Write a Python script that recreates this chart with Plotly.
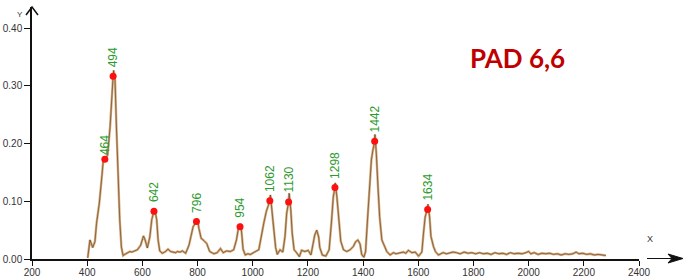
import plotly.graph_objects as go

# Spectrum (wavenumber, intensity)
wavenumber = [402, 410, 420, 428, 434, 444, 452, 458, 464, 474, 483, 489, 494, 496, 501, 506, 512, 518, 524, 530,
              536, 545, 555, 562, 570, 582, 594, 604, 610, 618, 627, 634, 642, 644, 652, 657, 663, 672, 684, 693,
              702, 711, 720, 727, 737, 745, 757, 769, 777, 784, 796, 799, 805, 813, 823, 833, 844, 859, 871, 883,
              893, 905, 919, 931, 941, 947, 954, 956, 960, 965, 973, 982, 992, 1001, 1010, 1022, 1030, 1040, 1049, 1062,
              1064, 1070, 1077, 1083, 1089, 1099, 1109, 1117, 1123, 1130, 1132, 1138, 1143, 1150, 1159, 1169, 1177, 1189,
              1201, 1211, 1219, 1225, 1232, 1239, 1243, 1252, 1265, 1277, 1286, 1292, 1298, 1299, 1305, 1311, 1319, 1329,
              1341, 1353, 1365, 1373, 1381, 1389, 1395, 1403, 1409, 1416, 1424, 1430, 1436, 1442, 1443, 1448, 1454, 1460,
              1468, 1477, 1486, 1498, 1510, 1519, 1528, 1537, 1546, 1555, 1564, 1577, 1589, 1601, 1613, 1619, 1625, 1634,
              1635, 1641, 1646, 1655, 1662, 1673, 1690, 1702, 1714, 1726, 1738, 1752, 1766, 1780, 1794, 1808, 1822, 1836,
              1850, 1864, 1878, 1892, 1906, 1920, 1934, 1948, 1962, 1976, 1990, 2000, 2008, 2020, 2034, 2048, 2062, 2076,
              2090, 2104, 2118, 2132, 2146, 2160, 2172, 2182, 2196, 2210, 2224, 2238, 2252, 2266, 2280]
intensity = [0.002, 0.033, 0.020, 0.030, 0.062, 0.097, 0.137, 0.169, 0.173, 0.180, 0.229, 0.288, 0.317, 0.327, 0.310, 0.229, 0.143, 0.068, 0.021, 0.006,
             0.008, 0.011, 0.013, 0.012, 0.014, 0.016, 0.024, 0.040, 0.033, 0.019, 0.038, 0.068, 0.083, 0.088, 0.068, 0.033, 0.014, 0.010, 0.013, 0.017,
             0.013, 0.012, 0.011, 0.013, 0.012, 0.014, 0.010, 0.024, 0.039, 0.056, 0.065, 0.070, 0.053, 0.036, 0.032, 0.027, 0.013, 0.009, 0.011, 0.018,
             0.011, 0.014, 0.013, 0.016, 0.033, 0.050, 0.056, 0.061, 0.045, 0.017, 0.007, 0.009, 0.008, 0.011, 0.013, 0.016, 0.039, 0.062, 0.082, 0.101,
             0.111, 0.085, 0.050, 0.020, 0.008, 0.016, 0.012, 0.039, 0.079, 0.099, 0.114, 0.085, 0.045, 0.016, 0.011, 0.004, 0.015, 0.013,
             0.015, 0.007, 0.027, 0.042, 0.050, 0.038, 0.020, 0.007, 0.005, 0.016, 0.068, 0.108, 0.124, 0.132, 0.108, 0.073, 0.031, 0.016,
             0.013, 0.016, 0.022, 0.030, 0.033, 0.026, 0.008, 0.003, 0.013, 0.068, 0.125, 0.172, 0.190, 0.204, 0.216, 0.183, 0.125, 0.073,
             0.033, 0.022, 0.013, 0.007, 0.011, 0.009, 0.010, 0.012, 0.012, 0.010, 0.015, 0.011, 0.012, 0.005, 0.012, 0.045, 0.073, 0.088,
             0.095, 0.073, 0.039, 0.022, 0.013, 0.007, 0.011, 0.009, 0.010, 0.012, 0.011, 0.009, 0.012, 0.010, 0.011, 0.009, 0.011, 0.009,
             0.010, 0.008, 0.011, 0.009, 0.010, 0.008, 0.011, 0.009, 0.010, 0.009, 0.011, 0.013, 0.009, 0.011, 0.008, 0.010, 0.009, 0.010,
             0.008, 0.009, 0.007, 0.009, 0.008, 0.009, 0.012, 0.009, 0.010, 0.008, 0.009, 0.007, 0.008, 0.007, 0.006]

# Labelled peaks
peak_positions = [464, 494, 642, 796, 954, 1062, 1130, 1298, 1442, 1634]
peak_heights = [0.173, 0.317, 0.083, 0.065, 0.056, 0.101, 0.099, 0.124, 0.204, 0.086]
peak_labels = ["464", "494", "642", "796", "954", "1062", "1130", "1298", "1442", "1634"]

x_ticks = [200, 400, 600, 800, 1000, 1200, 1400, 1600, 1800, 2000, 2200, 2400]
y_ticks = [0.0, 0.1, 0.2, 0.3, 0.4]

W, H = 685, 277
L, R, T, B = 32, 46, 7, 18
PW, PH = W - L - R, H - T - B


def px(xp):
    return (xp - L) / PW


def py(yp):
    return (H - B - yp) / PH


fig = go.Figure()
fig.add_trace(go.Scatter(x=wavenumber, y=intensity, mode="lines",
                         line=dict(color="#dcaa74", width=2.4), hoverinfo="skip", showlegend=False))
fig.add_trace(go.Scatter(x=wavenumber, y=intensity, mode="lines", opacity=0.85,
                         line=dict(color="#2a2a2a", width=0.6), showlegend=False))
fig.add_trace(go.Scatter(x=peak_positions, y=peak_heights, mode="markers",
                         marker=dict(color="#ff1010", size=7), showlegend=False))

for xv, yv, lab in zip(peak_positions, peak_heights, peak_labels):
    fig.add_annotation(x=xv, y=yv, text=lab, showarrow=False, textangle=-90,
                       xanchor="center", yanchor="bottom", yshift=2 if lab == "464" else 7,
                       font=dict(family="Liberation Sans, Arial", size=12, color="#2e9a2e"))

fig.add_annotation(x=px(517), y=py(58), xref="paper", yref="paper", text="<b>PAD 6,6</b>",
                   showarrow=False, xanchor="center", yanchor="middle",
                   font=dict(family="Lato", size=26, color="#c00000"))
fig.add_annotation(x=px(15), y=py(8), xref="paper", yref="paper", text="Y", showarrow=False,
                   font=dict(family="Liberation Sans, Arial", size=8, color="#333"))
fig.add_annotation(x=px(655), y=py(246), xref="paper", yref="paper", text="X", showarrow=False,
                   font=dict(family="Liberation Sans, Arial", size=9, color="#333"))

# axis arrows
fig.add_shape(type="path", xref="paper", yref="paper",
              path=f"M {px(26)} {py(15)} L {px(32)} {py(7)} L {px(38)} {py(15)}",
              line=dict(color="#111", width=1.5))
fig.add_shape(type="line", xref="paper", yref="paper", x0=px(647), y0=py(258.5), x1=px(682), y1=py(258.5),
              line=dict(color="#111", width=1.2))
fig.add_shape(type="path", xref="paper", yref="paper",
              path=f"M {px(668)} {py(254)} L {px(683)} {py(258.5)} L {px(668)} {py(263)} L {px(672)} {py(258.5)} Z",
              fillcolor="#111", line=dict(color="#111", width=1))

fig.update_layout(
    width=W, height=H, margin=dict(l=L, r=R, t=T, b=B, autoexpand=False),
    plot_bgcolor="white", paper_bgcolor="white",
    xaxis=dict(range=[200, 2400], tickvals=x_ticks, ticktext=[str(v) for v in x_ticks], automargin=False,
               showgrid=False, zeroline=False, showline=True, linecolor="#111", linewidth=1.5,
               ticks="outside", ticklen=5, tickwidth=1.2, tickcolor="#111", ticklabelstandoff=-2,
               tickfont=dict(family="Liberation Sans, Arial", size=10, color="#333")),
    yaxis=dict(range=[0, (H - B - T) / 576.7], tickvals=y_ticks, tickformat=".2f", automargin=False,
               showgrid=False, zeroline=False, showline=True, linecolor="#111", linewidth=1.5,
               ticks="outside", ticklen=6, tickwidth=1.2, tickcolor="#111",
               tickfont=dict(family="Liberation Sans, Arial", size=10, color="#333")),
)

fig.write_html("out.html", config={"displayModeBar": False},
               post_script="document.body.style.margin='0';document.body.style.overflow='hidden';")
